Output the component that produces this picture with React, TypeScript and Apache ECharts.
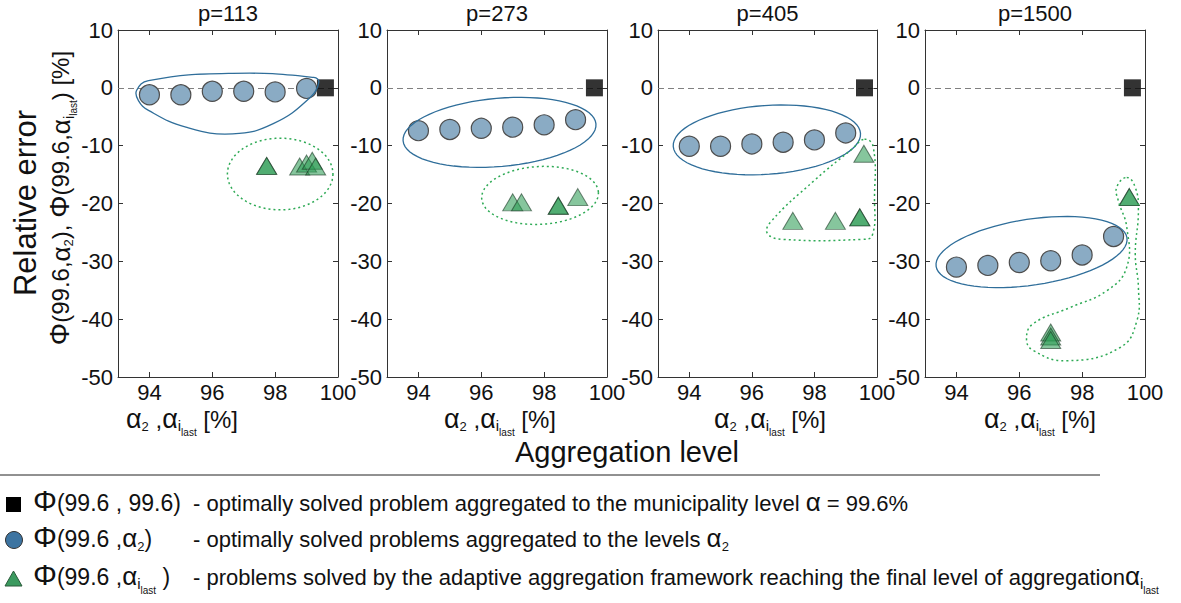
import React, { useEffect, useRef } from "react";
import * as echarts from "echarts";

const FONT = "'Liberation Sans', Arial, Helvetica, sans-serif";

// ---------------- data ----------------
const panelTitles = ["p=113", "p=273", "p=405", "p=1500"];
const alpha2Levels = [94, 95, 96, 97, 98, 99];
const phiAlpha2_p113 = [-1.2, -1.2, -0.6, -0.6, -0.7, -0.1];
const phiAlpha2_p273 = [-7.4, -7.2, -7.0, -6.8, -6.4, -5.5];
const phiAlpha2_p405 = [-10.1, -10.1, -9.7, -9.4, -9.0, -7.8];
const phiAlpha2_p1500 = [-31.0, -30.7, -30.2, -29.9, -28.9, -25.7];
const municipalityLevel = 99.6;
const phiMunicipality = [0, 0, 0, 0];
// adaptive aggregation results: [alpha_ilast, phi]
const adaptive_p113 = [[97.73, -13.5], [97.73, -13.5], [98.78, -13.6], [99.0, -13.1], [99.18, -12.6], [99.29, -13.6]];
const adaptive_p273 = [[97.0, -19.8], [97.28, -19.8], [98.45, -20.4], [98.45, -20.4], [99.07, -18.9]];
const adaptive_p405 = [[97.31, -23.0], [98.67, -23.0], [99.45, -22.4], [99.45, -22.4], [99.58, -11.4]];
const adaptive_p1500 = [[99.5, -18.9], [99.5, -18.9], [97.0, -42.3], [97.0, -43.0], [97.0, -43.6]];
const xTicks = [94, 96, 98, 100];
const xRange = [93, 100];
const yRange = [-50, 10];
const yStep = 10;

// annotation outlines (data coordinates)
const blueOutline_p113 = [[93.59, -0.46], [93.97, 1.26], [96.65, 2.5], [99.23, 1.8], [99.39, 0.97], [99.13, -1.6], [97.94, -6.2], [96.65, -7.96], [95.16, -6.8], [93.97, -3.9], [93.65, -2.2]];
const greenOutline_p405 = [[99.6, -8.9], [99.88, -10.2], [99.92, -19], [99.85, -25.5], [99.5, -26.2], [97, -26.2], [96.5, -25.2], [96.6, -23.2], [98.0, -16], [99.2, -10.6]];
const greenOutline_p1500 = [[99.42, -15.5], [99.69, -17.2], [99.79, -21.2], [99.69, -28.7], [99.79, -34.5], [99.74, -40.3], [99.21, -44.9], [97.5, -47.2], [96.44, -45.4], [96.23, -43.4], [96.44, -40.8], [97.61, -38], [98.78, -35.1], [99.42, -31.0], [99.42, -24.1], [99.15, -19.5], [99.1, -17.2]];
// ellipses: [cx, cy, rx (x units), ry (y units), rotation deg]
const greenEllipse_p113 = [98.16, -14.9, 1.68, 6.2, 0];
const blueEllipse_p273 = [96.58, -7.7, 3.08, 5.9, 5];
const greenEllipse_p273 = [97.87, -18.6, 1.86, 5.0, 3];
const blueEllipse_p405 = [96.48, -9.0, 3.0, 5.95, 4];
const blueEllipse_p1500 = [96.39, -28.4, 3.07, 5.7, 8.5];

const circleSets = [phiAlpha2_p113, phiAlpha2_p273, phiAlpha2_p405, phiAlpha2_p1500];
const adaptiveSets = [adaptive_p113, adaptive_p273, adaptive_p405, adaptive_p1500];

// ---------------- layout ----------------
const gridLefts = [118, 387, 658, 925];
const gridWidths = [220, 220, 219, 220];
const gridTop = 30;
const gridHeight = 347;
const xNameCenters = [182, 500, 770, 1040];

const BLUE = "#2f6e9a";
const GREEN = "#2eaa55";

function tok(fontSize: number, padTop: number, extra: any = {}) {
  return { fontSize, fontFamily: FONT, fill: "#111", padding: [padTop, 0, 0, 0], verticalAlign: "top", ...extra };
}

function polygonOutline(g: number, pts: number[][], color: string, dashed: boolean) {
  return {
    type: "custom",
    xAxisIndex: g * 2,
    yAxisIndex: g * 2,
    silent: true,
    clip: false,
    z: 4,
    data: [pts[0]],
    renderItem: (_p: any, api: any) => ({
      type: "polygon",
      shape: { points: pts.map((p) => api.coord(p)), smooth: 0.45 },
      style: { fill: "none", stroke: color, lineWidth: dashed ? 1.5 : 1.3, lineDash: dashed ? [2, 3] : null },
    }),
  };
}

function ellipseOutline(g: number, e: number[], color: string, dashed: boolean) {
  const [cx, cy, rx, ry, rot] = e;
  return {
    type: "custom",
    xAxisIndex: g * 2,
    yAxisIndex: g * 2,
    silent: true,
    clip: false,
    z: 4,
    data: [[cx, cy]],
    renderItem: (_p: any, api: any) => {
      const c = api.coord([cx, cy]);
      const s = api.size([rx, ry]);
      const a = (rot * Math.PI) / 180;
      const pts: number[][] = [];
      for (let i = 0; i < 72; i++) {
        const t = (i / 72) * Math.PI * 2;
        const u = s[0] * Math.cos(t);
        const v = s[1] * Math.sin(t);
        pts.push([c[0] + u * Math.cos(a) + v * Math.sin(a), c[1] - u * Math.sin(a) + v * Math.cos(a)]);
      }
      return {
        type: "polygon",
        shape: { points: pts },
        style: { fill: "none", stroke: color, lineWidth: dashed ? 1.5 : 1.3, lineDash: dashed ? [2, 3] : null },
      };
    },
  };
}

function buildOption() {
  const grid = gridLefts.map((l, i) => ({ left: l, top: gridTop, width: gridWidths[i], height: gridHeight }));
  const axisLine = { show: true, onZero: false, lineStyle: { color: "#333", width: 1 } };
  const xAxis: any[] = [];
  const yAxis: any[] = [];
  for (let g = 0; g < 4; g++) {
    xAxis.push({
      gridIndex: g, type: "value", min: xRange[0], max: xRange[1], position: "bottom",
      axisLine, splitLine: { show: false },
      axisTick: { show: true, inside: true, length: 5, customValues: xTicks, lineStyle: { color: "#333" } },
      axisLabel: { customValues: xTicks, fontSize: 22, color: "#111", fontFamily: FONT, margin: 4 },
    });
    xAxis.push({
      gridIndex: g, type: "value", min: xRange[0], max: xRange[1], position: "top",
      axisLine, splitLine: { show: false },
      axisTick: { show: true, inside: true, length: 5, customValues: xTicks, lineStyle: { color: "#333" } },
      axisLabel: { show: false },
    });
    yAxis.push({
      gridIndex: g, type: "value", min: yRange[0], max: yRange[1], interval: yStep, position: "left",
      axisLine, splitLine: { show: false },
      axisTick: { show: true, inside: true, length: 5, lineStyle: { color: "#333" } },
      axisLabel: { fontSize: 22, color: "#111", fontFamily: FONT, margin: 5 },
    });
    yAxis.push({
      gridIndex: g, type: "value", min: yRange[0], max: yRange[1], interval: yStep, position: "right",
      axisLine, splitLine: { show: false },
      axisTick: { show: true, inside: true, length: 5, lineStyle: { color: "#333" } },
      axisLabel: { show: false },
    });
  }

  const series: any[] = [];
  for (let g = 0; g < 4; g++) {
    series.push({
      type: "scatter", xAxisIndex: g * 2, yAxisIndex: g * 2, z: 3,
      symbol: "circle", symbolSize: 20,
      itemStyle: { color: "#8aabc4", borderColor: "#4d4d4d", borderWidth: 1.2, opacity: 1 },
      data: alpha2Levels.map((x, i) => [x, circleSets[g][i]]),
      markLine: {
        silent: true, symbol: ["none", "none"], label: { show: false }, z: 1,
        lineStyle: { color: "#808080", width: 1, type: [6, 4] },
        data: [{ yAxis: 0 }],
      },
    });
    series.push({
      type: "scatter", xAxisIndex: g * 2, yAxisIndex: g * 2, z: 3,
      symbol: "triangle", symbolSize: [20, 17],
      itemStyle: { color: "rgba(39,153,80,0.7)", borderColor: "rgba(25,55,35,0.75)", borderWidth: 1 },
      data: adaptiveSets[g],
    });
    series.push({
      type: "scatter", xAxisIndex: g * 2, yAxisIndex: g * 2, z: 3,
      symbol: "rect", symbolSize: 17,
      itemStyle: { color: "#000" },
      data: [[municipalityLevel, phiMunicipality[g]]],
    });
  }
  series.push(polygonOutline(0, blueOutline_p113, BLUE, false));
  series.push(ellipseOutline(0, greenEllipse_p113, GREEN, true));
  series.push(ellipseOutline(1, blueEllipse_p273, BLUE, false));
  series.push(ellipseOutline(1, greenEllipse_p273, GREEN, true));
  series.push(ellipseOutline(2, blueEllipse_p405, BLUE, false));
  series.push(polygonOutline(2, greenOutline_p405, GREEN, true));
  series.push(ellipseOutline(3, blueEllipse_p1500, BLUE, false));
  series.push(polygonOutline(3, greenOutline_p1500, GREEN, true));

  const graphic: any[] = [];
  // panel titles
  for (let g = 0; g < 4; g++) {
    graphic.push({
      type: "text", x: gridLefts[g] + gridWidths[g] / 2, y: 13, silent: true,
      style: { text: panelTitles[g], fontSize: 22, fontFamily: FONT, fill: "#111", align: "center", verticalAlign: "middle" },
    });
  }
  // x axis names
  const xRich = {
    a: tok(27, 0), m: tok(24, 2.5), sub: tok(13, 14.5), si: tok(15, 12.5), ss: tok(10, 22),
  };
  for (let g = 0; g < 4; g++) {
    graphic.push({
      type: "text", x: xNameCenters[g], y: 405, silent: true,
      style: { text: "{a|α}{sub|2}{m| ,}{a|α}{si|i}{ss|last}{m| [%]}", rich: xRich, align: "center", verticalAlign: "top" },
    });
  }
  // y axis names
  graphic.push({
    type: "text", x: 25, y: 203, rotation: Math.PI / 2, silent: true,
    style: { text: "Relative error", fontSize: 31, fontFamily: FONT, fill: "#111", align: "center", verticalAlign: "middle" },
  });
  const yRich = {
    phi: tok(28, 0), m: tok(24, 3), a: tok(26, 2), sub: tok(13, 16), si: tok(15, 15), ss: tok(10, 23),
  };
  graphic.push({
    type: "text", x: 62, y: 198, rotation: Math.PI / 2, silent: true,
    style: {
      text: "{phi|Φ}{m|(99.6,}{a|α}{sub|2}{m|), }{phi|Φ}{m|(99.6,}{a|α}{si|i}{ss|last}{m|) [%]}",
      rich: yRich, align: "center", verticalAlign: "middle",
    },
  });
  graphic.push({
    type: "text", x: 627, y: 452, silent: true,
    style: { text: "Aggregation level", fontSize: 29, fontFamily: FONT, fill: "#111", align: "center", verticalAlign: "middle" },
  });
  // legend
  graphic.push({ type: "line", silent: true, shape: { x1: 0, y1: 475, x2: 1100, y2: 475 }, style: { stroke: "#222", lineWidth: 1 } });
  const lRich = {
    phi: tok(30, 0.5), n: tok(23, 6.5), m: tok(22, 7.3), a: tok(26, 3.9), sub: tok(13, 19), si: tok(15, 17.2), ss: tok(10, 26.5),
  };
  const rows = [
    { y: 504, sym: "{phi|Φ}{n|(99.6 , 99.6)}", desc: "{m|- optimally solved problem aggregated to the municipality level }{a|α}{m| = 99.6%}" },
    { y: 540, sym: "{phi|Φ}{n|(99.6 ,}{a|α}{sub|2}{n|)}", desc: "{m|- optimally solved problems aggregated to the levels }{a|α}{sub|2}" },
    { y: 578, sym: "{phi|Φ}{n|(99.6 ,}{a|α}{si|i}{ss|last}{n| )}", desc: "{m|- problems solved by the adaptive aggregation framework reaching the final level of aggregation}{a|α}{si|i}{ss|last}" },
  ];
  rows.forEach((r) => {
    graphic.push({ type: "text", x: 33, y: r.y - 19, silent: true, style: { text: r.sym, rich: lRich, align: "left", verticalAlign: "top" } });
    graphic.push({ type: "text", x: 193, y: r.y - 19, silent: true, style: { text: r.desc, rich: lRich, align: "left", verticalAlign: "top" } });
  });
  graphic.push({ type: "rect", silent: true, shape: { x: 6, y: 497, width: 15, height: 15 }, style: { fill: "#000" } });
  graphic.push({ type: "circle", silent: true, shape: { cx: 14, cy: 540, r: 8.5 }, style: { fill: "#3d74a1", stroke: "#333", lineWidth: 1 } });
  graphic.push({ type: "polygon", silent: true, shape: { points: [[5, 586], [22, 586], [13.5, 571]] }, style: { fill: "#3b9a5f", stroke: "#2a5a3a", lineWidth: 1 } });

  return { animation: false, backgroundColor: "#fff", grid, xAxis, yAxis, series, graphic };
}

export default function App() {
  const ref = useRef<HTMLDivElement>(null);
  useEffect(() => {
    if (!ref.current) return;
    const chart = echarts.init(ref.current, undefined, { renderer: "svg" });
    chart.setOption(buildOption() as any);
    return () => chart.dispose();
  }, []);
  return <div ref={ref} style={{ position: "fixed", left: 0, top: 0, width: 1181, height: 603, background: "#fff" }} />;
}
